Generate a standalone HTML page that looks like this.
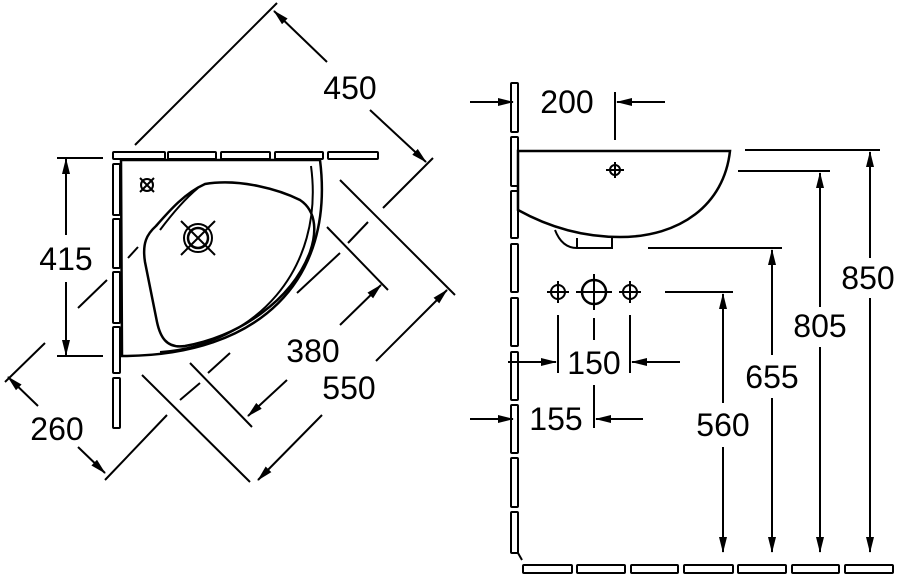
<!DOCTYPE html>
<html><head><meta charset="utf-8"><style>
html,body{margin:0;padding:0;background:#fff;}
svg{display:block;}
text{font-family:"Liberation Sans",Arial,sans-serif;font-size:32px;fill:#000;text-anchor:middle;dominant-baseline:central;}
</style></head><body>
<svg width="900" height="576" viewBox="0 0 900 576" xmlns="http://www.w3.org/2000/svg">
<defs>
<marker id="a" markerWidth="16" markerHeight="10" refX="15" refY="5" orient="auto" markerUnits="userSpaceOnUse">
<path d="M0,1 L16,5 L0,9 Z" fill="#000"/></marker>
</defs>
<g fill="none" stroke="#000" stroke-width="2">
<!-- LEFT: wall tiles top -->
<rect x="113" y="152" width="52" height="7" rx="1"/>
<rect x="168" y="152" width="48" height="7" rx="1"/>
<rect x="221" y="152" width="49" height="7" rx="1"/>
<rect x="275" y="152" width="48" height="7" rx="1"/>
<rect x="328" y="152" width="50" height="7" rx="1"/>
<!-- left wall tiles -->
<rect x="113" y="164" width="7" height="51" rx="1"/>
<rect x="113" y="219" width="7" height="49" rx="1"/>
<rect x="113" y="272" width="7" height="51" rx="1"/>
<rect x="113" y="327" width="7" height="46" rx="1"/>
<rect x="113" y="378" width="7" height="50" rx="1"/>
<!-- basin -->
<path d="M121,160 L320,160 C335,280 260,356 122,356 Z" stroke-width="2.5"/>
<path d="M311,166 C325,270 255,345 160,352" />
<path d="M205,184 C240,178 280,190 300,200 C318,212 316,235 310,252 C292,300 240,336 185,346 C166,349 160,336 157,322 L145,262 C142,243 147,234 156,226 C170,210 185,193 205,184 Z" stroke-width="2.5"/>
<path d="M160,230 C172,214 186,198 198,188"/>
<circle cx="198" cy="238" r="14"/>
<circle cx="198" cy="238" r="10" stroke-width="2.5"/>
<path d="M181,221 L215,255 M215,221 L181,255"/>
<circle cx="147" cy="185" r="6"/>
<path d="M140,178 L154,192 M154,178 L140,192"/>
<!-- 415 -->
<path d="M57,158 L103,158 M57,356 L103,356"/>
<path d="M66,235 L66,159" marker-end="url(#a)"/>
<path d="M66,282 L66,355" marker-end="url(#a)"/>
<!-- 450 -->
<path d="M135,145 L277,3"/>
<path d="M433,158 L383,208 M368,222 L348,243 M340,253 L297,293"/>
<path d="M327,62 L274,11" marker-end="url(#a)"/>
<path d="M370,110 L426,162" marker-end="url(#a)"/>
<!-- 260 -->
<path d="M5,382 L45,343 M138,247 L128,258 M107,280 L78,308"/>
<path d="M167,415 L105,480 M230,353 L208,373 M200,383 L180,400"/>
<path d="M38,406 L8,377" marker-end="url(#a)"/>
<path d="M78,447 L105,473" marker-end="url(#a)"/>
<!-- 380 -->
<path d="M327,227 L388,290 M190,363 L252,427"/>
<path d="M340,325 L381,285" marker-end="url(#a)"/>
<path d="M287,380 L248,416" marker-end="url(#a)"/>
<!-- 550 -->
<path d="M340,180 L455,295 M142,375 L250,482"/>
<path d="M376,361 L447,290" marker-end="url(#a)"/>
<path d="M322,415 L258,480" marker-end="url(#a)"/>

<!-- RIGHT: wall -->
<rect x="511" y="83" width="7" height="49" rx="1"/>
<rect x="511" y="137" width="7" height="49" rx="1"/>
<rect x="511" y="191" width="7" height="47" rx="1"/>
<rect x="511" y="244" width="7" height="48" rx="1"/>
<rect x="511" y="298" width="7" height="48" rx="1"/>
<rect x="511" y="352" width="7" height="48" rx="1"/>
<rect x="511" y="405" width="7" height="48" rx="1"/>
<rect x="511" y="458" width="7" height="49" rx="1"/>
<rect x="511" y="512" width="7" height="41" rx="1"/>
<path d="M518,553 L522,560"/>
<rect x="523" y="565" width="49" height="8" rx="1"/>
<rect x="577" y="565" width="48" height="8" rx="1"/>
<rect x="631" y="565" width="47" height="8" rx="1"/>
<rect x="684" y="565" width="49" height="8" rx="1"/>
<rect x="738" y="565" width="48" height="8" rx="1"/>
<rect x="792" y="565" width="47" height="8" rx="1"/>
<rect x="845" y="565" width="48" height="8" rx="1"/>
<!-- basin side -->
<path d="M518,151 L730,151 C724,205 680,237 620,237 C580,237 545,225 518,210 Z" stroke-width="2.5"/>
<path d="M555,230 C560,243 568,248 577,248 L612,248 L612,237"/>
<path d="M577,248 L577,238"/>
<circle cx="615" cy="170" r="5"/>
<path d="M606,170 L624,170 M615,162 L615,178"/>
<!-- 200 -->
<path d="M615,92 L615,140"/>
<path d="M470,102 L513,102" marker-end="url(#a)"/>
<path d="M665,102 L617,102" marker-end="url(#a)"/>
<!-- ext lines -->
<path d="M745,150 L880,150 M738,171 L830,171 M648,248 L782,248 M665,292 L733,292"/>
<!-- verticals -->
<path d="M870,258 L870,152" marker-end="url(#a)"/>
<path d="M870,298 L870,552" marker-end="url(#a)"/>
<path d="M820,307 L820,173" marker-end="url(#a)"/>
<path d="M820,347 L820,552" marker-end="url(#a)"/>
<path d="M772,355 L772,250" marker-end="url(#a)"/>
<path d="M772,398 L772,552" marker-end="url(#a)"/>
<path d="M723,403 L723,294" marker-end="url(#a)"/>
<path d="M723,447 L723,552" marker-end="url(#a)"/>
<!-- holes -->
<circle cx="558" cy="292" r="7"/>
<path d="M547,292 L569,292 M558,281 L558,303"/>
<circle cx="594" cy="292" r="12" stroke-width="2.5"/>
<path d="M576,292 L612,292 M594,274 L594,310"/>
<circle cx="630" cy="292" r="7"/>
<path d="M619,292 L641,292 M630,281 L630,303"/>
<!-- 150 -->
<path d="M558,315 L558,373 M630,315 L630,373 M594,318 L594,340"/>
<path d="M508,362 L556,362" marker-end="url(#a)"/>
<path d="M680,362 L632,362" marker-end="url(#a)"/>
<!-- 155 -->
<path d="M594,385 L594,428"/>
<path d="M470,419 L513,419" marker-end="url(#a)"/>
<path d="M643,419 L596,419" marker-end="url(#a)"/>
</g>
<text x="350" y="88">450</text>
<text x="66" y="259">415</text>
<text x="313" y="351">380</text>
<text x="349" y="388">550</text>
<text x="57" y="429">260</text>
<text x="567" y="102">200</text>
<text x="594" y="363">150</text>
<text x="556" y="419">155</text>
<text x="868" y="278">850</text>
<text x="820" y="326">805</text>
<text x="772" y="377">655</text>
<text x="723" y="425">560</text>
</svg>
</body></html>
